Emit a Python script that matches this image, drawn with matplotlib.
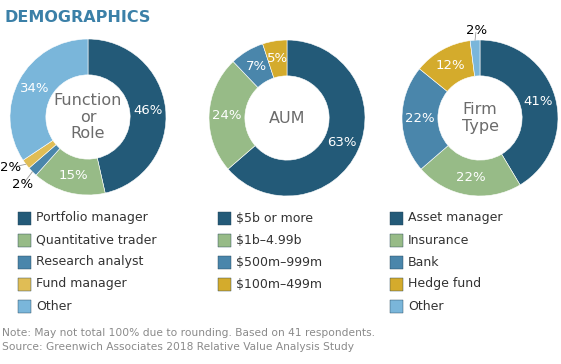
import matplotlib
matplotlib.use("Agg")
import matplotlib.pyplot as plt
from matplotlib.patches import Rectangle
import numpy as np

plt.rcParams['font.family'] = ['DejaVu Sans']

# data
func_labels = ['Portfolio manager', 'Quantitative trader', 'Research analyst', 'Fund manager', 'Other']
func_values = [46, 15, 2, 2, 34]
aum_labels = ['$5b or more', '$1b\u20134.99b', '$500m\u2013999m', '$100m\u2013499m']
aum_values = [63, 24, 7, 5]
firm_labels = ['Asset manager', 'Insurance', 'Bank', 'Hedge fund', 'Other']
firm_values = [41, 22, 22, 12, 2]

dark = '#235a78'
green = '#97bb87'
blue = '#4a86ab'
gold_l = '#e0bd55'
gold_d = '#d4ab2c'
light = '#7ab6da'

func_colors = [dark, green, blue, gold_l, light]
aum_colors = [dark, green, blue, gold_d]
firm_colors = [dark, green, blue, gold_d, light]

W, H = 561, 364
fig = plt.figure(figsize=(W / 100, H / 100), dpi=100)
fig.patch.set_facecolor('white')

R = 78  # outer radius in px
hole = 0.54
lim = 1.08


def donut(cx, cy, values, colors, center, outside=None):
    size = 2 * R * lim
    ax = fig.add_axes([(cx - size / 2) / W, 1 - (cy + size / 2) / H, size / W, size / H])
    wedges, _ = ax.pie(values, colors=colors, startangle=90, counterclock=False,
                       wedgeprops=dict(width=1 - hole, edgecolor='white', linewidth=0.4))
    ax.set_xlim(-lim, lim)
    ax.set_ylim(-lim, lim)
    ax.set_aspect('equal')
    ax.axis('off')
    ax.text(0, 0, center, ha='center', va='center', fontsize=11.5, color='#6b6b6b',
            linespacing=1.1)
    outside = outside or {}
    for i, (w, v) in enumerate(zip(wedges, values)):
        ang = np.deg2rad((w.theta1 + w.theta2) / 2)
        if i in outside:
            tx, ty = outside[i]
            ax.plot([np.cos(ang) * 1.0, tx * 0.8 + np.cos(ang) * 0.2],
                    [np.sin(ang) * 1.0, ty * 0.8 + np.sin(ang) * 0.2],
                    color='#999999', lw=0.6, clip_on=False)
            ax.text(tx, ty, f'{v}%', ha='center', va='center', fontsize=9.5,
                    color='black')
        else:
            rr = (1 + hole) / 2
            ax.text(np.cos(ang) * rr, np.sin(ang) * rr, f'{v}%', ha='center', va='center',
                    fontsize=9.5, color='white')
    return ax


donut(88, 117, func_values, func_colors, 'Function\nor\nRole',
      outside={2: (-0.84, -0.87), 3: (-0.99, -0.65)})
donut(287, 118, aum_values, aum_colors, 'AUM')
donut(480, 118, firm_values, firm_colors, 'Firm\nType', outside={4: (-0.05, 1.12)})

fig.text(4 / W, 1 - 18 / H, 'DEMOGRAPHICS', fontsize=11.5, fontweight='bold',
         color='#3b80a8', va='center', ha='left')

row_y = [218, 240, 262, 284, 306]
cols = [(18, func_labels, func_colors), (218, aum_labels, aum_colors),
        (390, firm_labels, firm_colors)]
for x0, labs, cols_ in cols:
    for j, (lab, c) in enumerate(zip(labs, cols_)):
        y = row_y[j]
        fig.patches.append(Rectangle((x0 / W, 1 - (y + 6.5) / H), 13 / W, 13 / H,
                                     transform=fig.transFigure, facecolor=c,
                                     edgecolor='#1f3f55', linewidth=0.3))
        fig.text((x0 + 18) / W, 1 - y / H, lab, fontsize=9, color='#333333',
                 va='center', ha='left')

fig.text(2 / W, 1 - 333 / H, 'Note: May not total 100% due to rounding. Based on 41 respondents.',
         fontsize=7.7, color='#8a8a8a', va='center', ha='left')
fig.text(2 / W, 1 - 347 / H, 'Source: Greenwich Associates 2018 Relative Value Analysis Study',
         fontsize=7.7, color='#8a8a8a', va='center', ha='left')

fig.savefig('out.png', dpi=100, facecolor='white')
